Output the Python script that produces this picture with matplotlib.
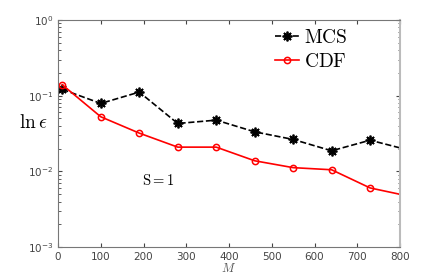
import matplotlib
matplotlib.use('Agg')
import matplotlib.pyplot as plt
from matplotlib.ticker import LogLocator, NullFormatter

plt.rcParams['mathtext.fontset'] = 'cm'

# Values
m_values = [10, 100, 190, 280, 370, 460, 550, 640, 730, 820]
mcs_err = [0.121, 0.0789, 0.1115, 0.0429, 0.0475, 0.0333, 0.0264, 0.0187, 0.0258, 0.0191]
cdf_err = [0.139, 0.0526, 0.032, 0.0209, 0.0209, 0.0138, 0.0112, 0.0105, 0.00604, 0.00471]
x_ticks = [0, 100, 200, 300, 400, 500, 600, 700, 800]

fig = plt.figure(figsize=(4.43, 2.77), dpi=100)
ax = fig.add_axes([0.131, 0.108, 0.772, 0.820])

ax.plot(m_values, mcs_err, color='black', linestyle='--', linewidth=1.2,
        marker=(8, 2, 0), markersize=7, markeredgewidth=1.3, label=r'$\mathrm{MCS}$')
ax.plot(m_values, cdf_err, color='red', linestyle='-', linewidth=1.2,
        marker='o', markersize=4.5, markerfacecolor='none', markeredgewidth=1.1,
        label=r'$\mathrm{CDF}$')

ax.set_yscale('log')
ax.set_xlim(0, 800)
ax.set_ylim(1e-3, 1)
ax.set_xticks(x_ticks)
ax.yaxis.set_major_locator(LogLocator(base=10, numticks=10))
ax.yaxis.set_minor_locator(LogLocator(base=10, subs=range(2, 10), numticks=10))
ax.yaxis.set_minor_formatter(NullFormatter())

ax.tick_params(which='both', direction='in', top=True, right=True,
               labelsize=7.5, colors='#444444', length=3)
ax.tick_params(which='minor', length=1.8)
for spine in ax.spines.values():
    spine.set_color('#777777')
    spine.set_linewidth(0.8)
ax.spines['right'].set_color('#bbbbbb')
ax.spines['right'].set_linewidth(1.5)

ax.set_xlabel(r'$M$', fontsize=9, color='#555555', labelpad=0)
ax.set_ylabel(r'$\ln\epsilon$', fontsize=14, rotation=0, va='center', ha='center')
ax.yaxis.set_label_coords(-0.073, 0.55)

ax.text(235, 0.0076, r'$\mathrm{S{=}1}$', fontsize=10.5, ha='center', va='center')

ax.legend(loc='upper left', frameon=False, fontsize=14, handlelength=1.2,
          handletextpad=0.3, labelspacing=0.25, borderpad=0, borderaxespad=0,
          bbox_to_anchor=(0.635, 0.965))

fig.savefig('out.png', dpi=100)
